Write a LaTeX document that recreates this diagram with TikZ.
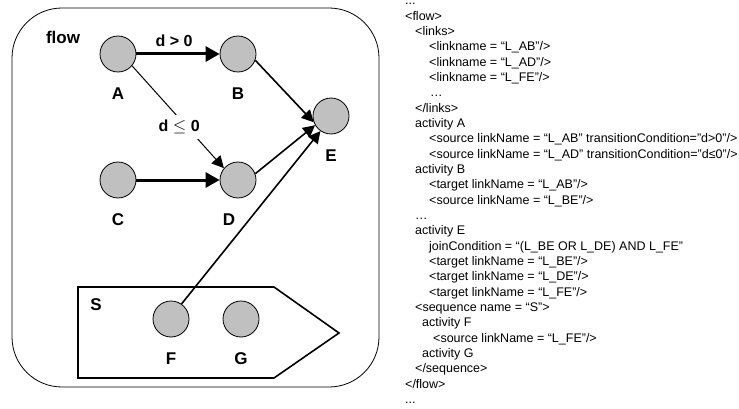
\documentclass[tikz,border=0pt]{standalone}
\usepackage{fontspec}
\setmainfont{Liberation Sans}
\usetikzlibrary{arrows.meta,positioning}
\definecolor{actgray}{RGB}{192,192,192}

\begin{document}
\begin{tikzpicture}[x=1pt,y=-1pt,
  act/.style={circle,draw,line width=0.8pt,fill=actgray,minimum size=36pt,inner sep=0pt},
  lbl/.style={font=\fontsize{17}{20}\selectfont\bfseries,inner sep=0pt},
  cond/.style={font=\fontsize{16}{19}\selectfont\bfseries,inner sep=0pt},
  bigarrow/.style={line width=3pt,-{Triangle[length=14pt,width=15pt]}},
  arrow/.style={line width=1.6pt,-{Triangle[length=12pt,width=12pt]}},
  thinarrow/.style={line width=1pt,-{Triangle[length=12pt,width=12pt]}}]
\useasboundingbox (0,0) rectangle (739,409);
% flow container
\draw[line width=0.8pt,rounded corners=50pt] (12,8) rectangle (379,387);
\node[lbl] (flow) at (63,37) {flow};
% sequence S
\draw[line width=1.6pt] (78,287) -- (274,287) -- (339,333) -- (274,378) -- (78,378) -- cycle;
\node[lbl] (S) at (96,305) {S};
% activities
\node[act] (A) at (118,54) {};
\node[act] (B) at (238,54) {};
\node[act] (C) at (118,180) {};
\node[act] (D) at (238,180) {};
\node[act] (E) at (331,116) {};
\node[act] (F) at (171,319) {};
\node[act] (G) at (241,319) {};
\node[lbl,below=15pt of A] (lA) {A};
\node[lbl,below=15pt of B] (lB) {B};
\node[lbl,below=15pt of C] (lC) {C};
\node[lbl,below=15pt of D,xshift=-9pt] (lD) {D};
\node[lbl,below=15pt of E] (lE) {E};
\node[lbl,below=15pt of F] (lF) {F};
\node[lbl,below=15pt of G] (lG) {G};
% links
\draw[bigarrow] (A) -- node[cond,midway,above=6pt,xshift=-4pt] (gt) {d > 0} (B);
\draw[bigarrow] (C) -- (D);
\draw[thinarrow] (A.-40) -- node[cond,pos=.6,xshift=-8pt,fill=white,inner xsep=2pt,inner ysep=5pt] (le) {d $\leq$ 0} (D.140);
\draw[arrow] (B.-20) -- (E.200);
\draw[arrow] (D.20) -- (E.210);
\draw[arrow] (F.55) -- (E.235);
% BPEL text
\node[anchor=north west,inner sep=0pt,align=left,font=\fontsize{12.5}{15.33}\selectfont] (code) at (405,-6) {\strut...\\
<flow>\\
\hspace*{10pt}<links>\\
\hspace*{24pt}<linkname = “L\_AB”/>\\
\hspace*{24pt}<linkname = “L\_AD”/>\\
\hspace*{24pt}<linkname = “L\_FE”/>\\
\hspace*{25pt}…\\
\hspace*{10pt}</links>\\
\hspace*{10pt}activity A\\
\hspace*{24pt}<source linkName = “L\_AB” transitionCondition="d>0"/>\\
\hspace*{24pt}<source linkName = “L\_AD” transitionCondition="d≤0"/>\\
\hspace*{10pt}activity B\\
\hspace*{24pt}<target linkName = “L\_AB”/>\\
\hspace*{24pt}<source linkName = “L\_BE”/>\\
\hspace*{10pt}…\\
\hspace*{10pt}activity E\\
\hspace*{24pt}joinCondition = “(L\_BE OR L\_DE) AND L\_FE”\\
\hspace*{24pt}<target linkName = “L\_BE”/>\\
\hspace*{24pt}<target linkName = “L\_DE”/>\\
\hspace*{24pt}<target linkName = “L\_FE”/>\\
\hspace*{10pt}<sequence name = “S”>\\
\hspace*{17pt}activity F\\
\hspace*{28pt}<source linkName = “L\_FE”/>\\
\hspace*{17pt}activity G\\
\hspace*{10pt}</sequence>\\
</flow>\\
...};
\end{tikzpicture}
\end{document}
